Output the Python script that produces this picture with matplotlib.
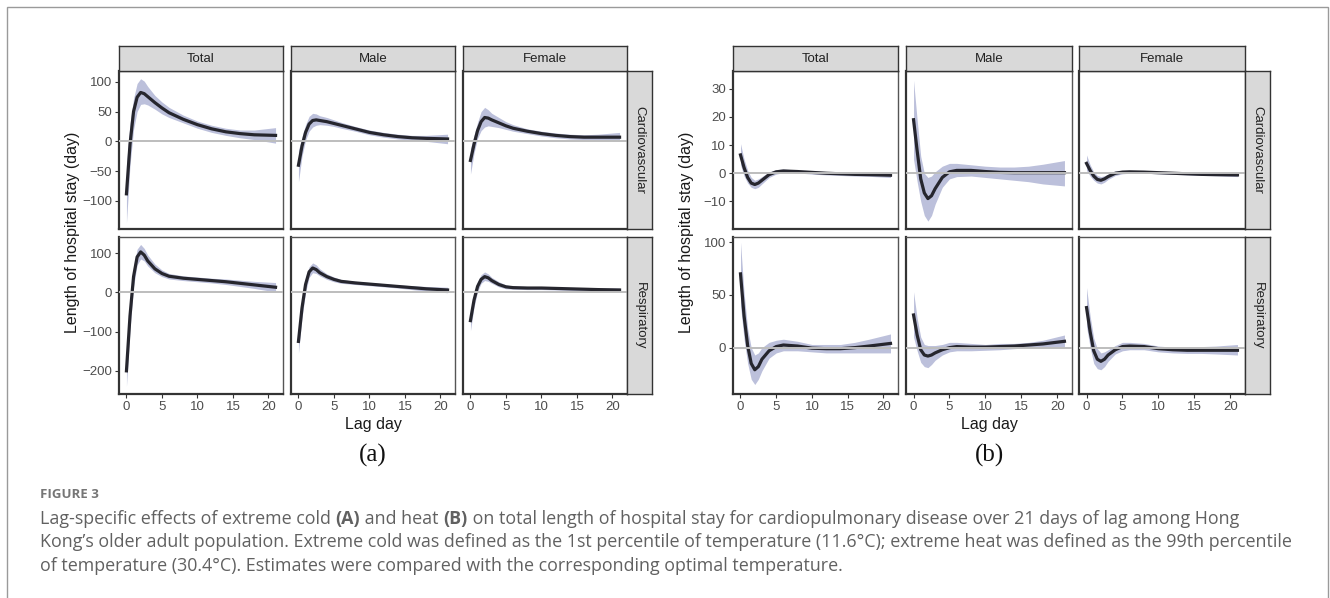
import matplotlib
matplotlib.use("Agg")
from matplotlib import pyplot as plt
from matplotlib.patches import Rectangle

W, H = 1330, 598

lag = [0, 0.5, 1, 1.5, 2, 2.5, 3, 4, 5, 6, 8, 10, 12, 14, 16, 18, 21]
groups = ["Total", "Male", "Female"]
causes = ["Cardiovascular", "Respiratory"]
xticks = [0, 5, 10, 15, 20]

# ---- (a) extreme cold ----
cold_cv_tot = [-88, -5, 50, 74, 82, 80, 75, 65, 56, 48, 37, 28, 21, 16, 13, 11, 10]
cold_cv_tot_lo = [-137, -40, 20, 50, 62, 63, 61, 54, 46, 40, 31, 22, 15, 10, 6, 3, -3]
cold_cv_tot_hi = [-40, 30, 72, 97, 105, 101, 92, 77, 66, 57, 44, 34, 27, 22, 19, 19, 23]
cold_cv_male = [-40, -8, 15, 29, 35, 36, 35, 33, 30, 27, 21, 15, 11, 8, 6, 5, 4]
cold_cv_male_lo = [-68, -25, 2, 17, 24, 27, 28, 27, 25, 22, 17, 11, 7, 4, 2, 0, -4]
cold_cv_male_hi = [-15, 8, 28, 42, 47, 46, 43, 40, 36, 32, 25, 19, 15, 12, 10, 10, 12]
cold_cv_fem = [-32, -5, 18, 33, 40, 39, 36, 31, 26, 22, 17, 13, 10, 8, 7, 7, 7]
cold_cv_fem_lo = [-55, -20, 5, 18, 24, 26, 25, 23, 20, 17, 13, 9, 6, 4, 3, 2, 0]
cold_cv_fem_hi = [-12, 10, 32, 50, 57, 53, 47, 40, 33, 28, 21, 17, 14, 12, 11, 12, 15]

cold_rs_tot = [-200, -60, 40, 90, 103, 95, 80, 60, 48, 41, 36, 33, 30, 27, 23, 19, 13]
cold_rs_tot_lo = [-240, -95, 15, 70, 85, 80, 67, 50, 40, 34, 30, 27, 24, 20, 15, 10, 1]
cold_rs_tot_hi = [-160, -25, 65, 110, 122, 112, 95, 72, 57, 48, 42, 39, 36, 34, 31, 28, 25]
cold_rs_male = [-125, -40, 20, 52, 62, 58, 50, 40, 33, 28, 24, 21, 18, 15, 12, 9, 6]
cold_rs_male_lo = [-155, -65, 0, 38, 50, 48, 42, 33, 27, 23, 20, 17, 14, 11, 7, 3, -1]
cold_rs_male_hi = [-95, -15, 38, 65, 75, 70, 60, 47, 39, 33, 28, 25, 22, 19, 17, 15, 13]
cold_rs_fem = [-72, -20, 15, 33, 40, 37, 30, 20, 14, 12, 11, 11, 10, 9, 8, 7, 6]
cold_rs_fem_lo = [-98, -38, 2, 23, 30, 28, 23, 14, 9, 8, 7, 7, 6, 5, 4, 3, 1]
cold_rs_fem_hi = [-48, -3, 28, 45, 52, 47, 38, 27, 19, 16, 15, 14, 13, 12, 12, 11, 11]

# ---- (b) extreme heat ----
heat_cv_tot = [6.5, 2, -1.5, -3.5, -4, -3.5, -2.5, -0.5, 0.5, 0.8, 0.6, 0.3, 0, -0.2, -0.4, -0.5, -0.7]
heat_cv_tot_lo = [3, -1, -3.5, -5, -5.5, -5, -3.8, -1.5, -0.3, 0.2, 0.1, -0.3, -0.6, -0.8, -1, -1.1, -1.5]
heat_cv_tot_hi = [10.5, 5, 1, -1.5, -2.5, -2, -1.2, 0.5, 1.3, 1.5, 1.1, 0.8, 0.6, 0.4, 0.2, 0.3, 0.3]
heat_cv_male = [19, 8, -2, -7, -9, -8, -5.5, -1.5, 0.5, 1, 1, 0.6, 0.3, 0.2, 0.2, 0.2, 0.2]
heat_cv_male_lo = [5, -3, -10, -15, -17, -15, -11, -5, -2, -1.2, -1, -1.5, -2, -2.5, -3, -3.8, -4.5]
heat_cv_male_hi = [33, 19, 6, 0, -1.5, -1, 0.5, 2.5, 3.5, 3.5, 3, 2.5, 2.2, 2.2, 2.5, 3.2, 4.5]
heat_cv_fem = [3.5, 1, -1, -2.2, -2.5, -2, -1.2, 0, 0.4, 0.5, 0.4, 0.2, 0, -0.2, -0.4, -0.5, -0.6]
heat_cv_fem_lo = [1, -1, -2.5, -3.5, -3.8, -3.2, -2.2, -0.8, -0.2, 0, 0, -0.2, -0.4, -0.6, -0.8, -0.9, -1.2]
heat_cv_fem_hi = [6.5, 3, 0.5, -0.8, -1.2, -0.9, -0.3, 0.8, 1, 1, 0.8, 0.6, 0.4, 0.2, 0.1, 0, 0]

heat_rs_tot = [70, 30, 2, -15, -21, -18, -11, -3, 1, 2.5, 1.5, -0.5, -1, -1, 0, 1.5, 4]
heat_rs_tot_lo = [40, 8, -15, -30, -35, -30, -22, -10, -5, -3, -3, -4, -5, -5, -5, -5, -5]
heat_rs_tot_hi = [100, 52, 18, 0, -7, -5, 0, 5, 7, 8, 6, 3, 3, 3, 5, 8, 13]
heat_rs_male = [31, 12, -2, -7, -8, -7, -5, -2, 0, 1, 0.5, 0.5, 1, 1.5, 2.5, 3.5, 6]
heat_rs_male_lo = [10, -3, -14, -18, -19, -16, -12, -7, -4, -3, -3, -2.5, -2, -1, 0, 0.5, 1]
heat_rs_male_hi = [53, 28, 10, 3, 2, 2, 2, 3, 5, 5, 4, 3, 4, 4, 5, 7, 12]
heat_rs_fem = [38, 15, -3, -11, -13, -11, -7, -2, 1, 1.5, 1, -1, -2, -2.5, -2.5, -2.5, -2.5]
heat_rs_fem_lo = [20, 0, -15, -20, -21, -18, -13, -6, -3, -2, -2, -4, -5, -5.5, -5.5, -6, -7]
heat_rs_fem_hi = [57, 30, 9, -1, -5, -4, -2, 2, 5, 5, 4, 1.5, 0.5, 0.5, 1, 1.5, 3]

cold = [[(cold_cv_tot, cold_cv_tot_lo, cold_cv_tot_hi),
         (cold_cv_male, cold_cv_male_lo, cold_cv_male_hi),
         (cold_cv_fem, cold_cv_fem_lo, cold_cv_fem_hi)],
        [(cold_rs_tot, cold_rs_tot_lo, cold_rs_tot_hi),
         (cold_rs_male, cold_rs_male_lo, cold_rs_male_hi),
         (cold_rs_fem, cold_rs_fem_lo, cold_rs_fem_hi)]]
heat = [[(heat_cv_tot, heat_cv_tot_lo, heat_cv_tot_hi),
         (heat_cv_male, heat_cv_male_lo, heat_cv_male_hi),
         (heat_cv_fem, heat_cv_fem_lo, heat_cv_fem_hi)],
        [(heat_rs_tot, heat_rs_tot_lo, heat_rs_tot_hi),
         (heat_rs_male, heat_rs_male_lo, heat_rs_male_hi),
         (heat_rs_fem, heat_rs_fem_lo, heat_rs_fem_hi)]]

cold_yticks = [[-100, -50, 0, 50, 100], [-200, -100, 0, 100]]
heat_yticks = [[-10, 0, 10, 20, 30], [0, 50, 100]]
cold_ylim = [(-147, 118), (-259, 141)]
heat_ylim = [(-19.8, 36.3), (-44, 105)]

RIBBON = "#bcc0db"
LINE = "#26262e"
SANS = ["Liberation Sans", "DejaVu Sans"]

fig = plt.figure(figsize=(W / 100, H / 100), dpi=100)


def box(x0, y0, x1, y1):
    # pixel box (top-left origin) -> figure fraction
    return [x0 / W, 1 - y1 / H, (x1 - x0) / W, (y1 - y0) / H]


def strip(x0, y0, x1, y1, label, rot=0):
    sa = fig.add_axes(box(x0, y0, x1, y1))
    sa.set_facecolor("#d9d9d9")
    sa.set_xticks([])
    sa.set_yticks([])
    for s in sa.spines.values():
        s.set_color("#333333")
        s.set_linewidth(1.0)
    sa.text(0.5, 0.5, label, transform=sa.transAxes, ha="center", va="center",
            rotation=rot, fontsize=9.5, color="#222222", family=SANS)


def facet(cols, rows, data, yticks, ylims, letter):
    for r in range(2):
        y0, y1 = rows[r]
        for c in range(3):
            x0, x1 = cols[c]
            est, lo, hi = data[r][c]
            ax = fig.add_axes(box(x0, y0, x1, y1))
            ax.fill_between(lag, lo, hi, color=RIBBON, lw=0, zorder=1)
            ax.plot(lag, est, color=LINE, lw=2.3, zorder=2)
            ax.axhline(0, color="#bdbdbd", lw=1.4, zorder=3)
            ax.set_xlim(-1.05, 22.05)
            ax.set_ylim(*ylims[r])
            ax.set_xticks(xticks)
            ax.set_yticks(yticks[r])
            ax.set_yticklabels([str(v).replace("-", "\u2212") for v in yticks[r]])
            for side in ["top", "right"]:
                ax.spines[side].set_color("#555555")
                ax.spines[side].set_linewidth(1.0)
            for side in ["left", "bottom"]:
                ax.spines[side].set_color("#333333")
                ax.spines[side].set_linewidth(1.6)
            ax.tick_params(length=3, width=0.8, color="#333333", labelcolor="#4d4d4d",
                           labelsize=9.5, pad=2)
            for t in ax.get_xticklabels() + ax.get_yticklabels():
                t.set_family(SANS)
            if c != 0:
                ax.tick_params(left=False, labelleft=False)
            if r != 1:
                ax.tick_params(bottom=False, labelbottom=False)
            if r == 0:
                strip(x0, 46, x1, 71, groups[c])
            if c == 2:
                strip(x1, y0, x1 + 25, y1, causes[r], rot=-90)
    xm = (cols[0][0] + cols[2][1]) / 2
    fig.text(xm / W, 1 - 424 / H, "Lag day", ha="center", va="center",
             fontsize=11.5, color="#1a1a1a", family=SANS)
    fig.text((cols[0][0] - 47) / W, 1 - 232 / H, "Length of hospital stay (day)",
             ha="center", va="center", rotation=90, fontsize=11.5, color="#1a1a1a", family=SANS)
    fig.text(xm / W, 1 - 455 / H, letter, ha="center", va="center",
             fontsize=18, color="#111111", family=["Liberation Serif", "DejaVu Serif"])


rows = [(71, 229), (237, 394)]
facet([(119, 283), (291, 455), (463, 627)], rows, cold, cold_yticks, cold_ylim, "(a)")
facet([(733, 898), (906, 1072), (1079, 1245)], rows, heat, heat_yticks, heat_ylim, "(b)")

# outer frame of the figure box
fig.add_artist(Rectangle((7 / W, -0.1), (1328 - 7) / W, 1.1 - 7 / H, transform=fig.transFigure,
                         fill=False, ec="#9a9a9a", lw=1.0))

# caption
renderer = fig.canvas.get_renderer()
CAP = ["Open Sans", "DejaVu Sans"]
CAP_COLOR = "#616161"


def seg_width(s, size, weight):
    t1 = fig.text(0, 0, "x" + s + "x", fontsize=size, fontweight=weight, family=CAP)
    t2 = fig.text(0, 0, "xx", fontsize=size, fontweight=weight, family=CAP)
    w = t1.get_window_extent(renderer).width - t2.get_window_extent(renderer).width
    t1.remove()
    t2.remove()
    return w


line1 = [("Lag-specific effects of extreme cold ", "normal"), ("(A)", "bold"),
         (" and heat ", "normal"), ("(B)", "bold"),
         (" on total length of hospital stay for cardiopulmonary disease over 21 days of lag among Hong", "normal")]
line2 = [("Kong\u2019s older adult population. Extreme cold was defined as the 1st percentile of temperature "
          "(11.6\u00b0C); extreme heat was defined as the 99th percentile", "normal")]
line3 = [("of temperature (30.4\u00b0C). Estimates were compared with the corresponding optimal temperature.", "normal")]

cap_size = 12 * (1288 - 40) / seg_width(line2[0][0], 12, "normal")


def rich_line(y, parts):
    x = 40
    for s, weight in parts:
        fig.text(x / W, 1 - y / H, s, fontsize=cap_size, fontweight=weight, color=CAP_COLOR,
                 family=CAP, ha="left", va="center")
        x += seg_width(s, cap_size, weight)


fig.text(40 / W, 1 - 495 / H, "FIGURE 3", fontsize=9.5, fontweight="bold", color="#767676",
         family=CAP, ha="left", va="center")
rich_line(519, line1)
rich_line(542, line2)
rich_line(566, line3)

fig.savefig("out.png", dpi=100)
